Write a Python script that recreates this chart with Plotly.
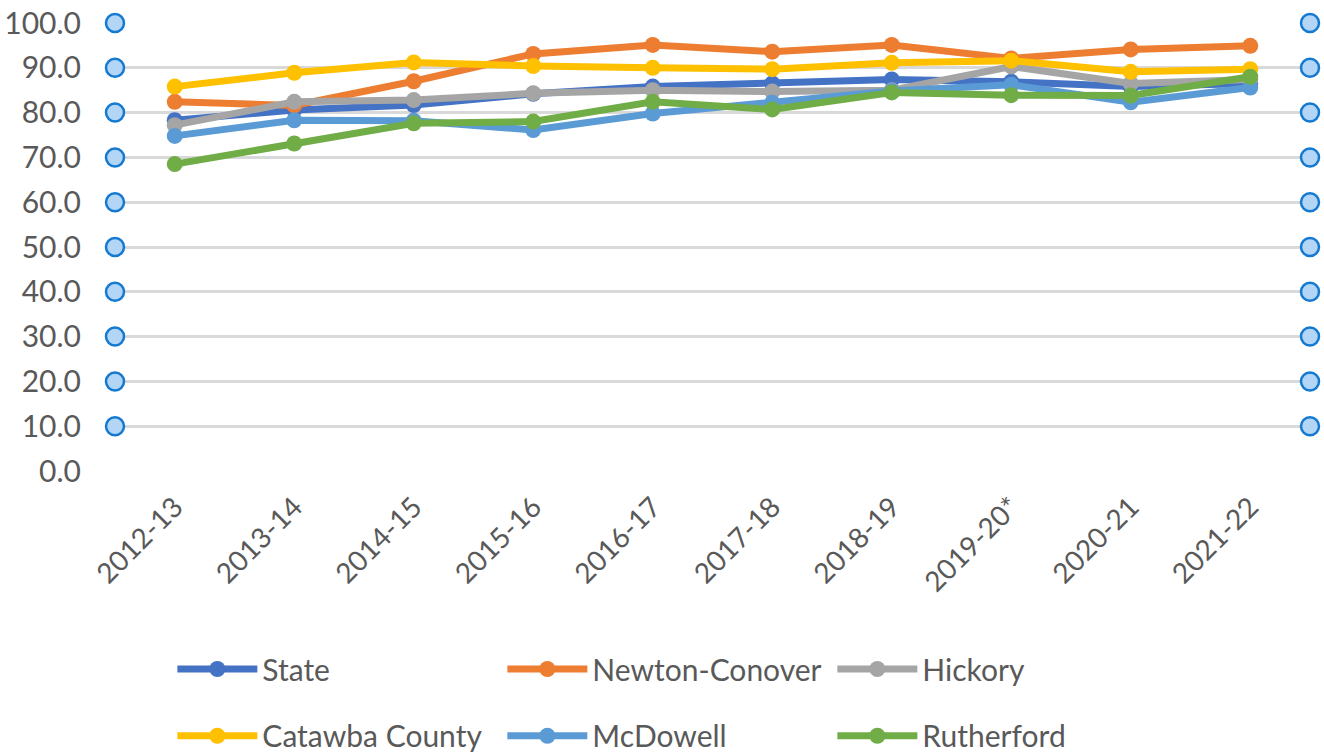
import plotly.graph_objects as go

years = ["2012-13", "2013-14", "2014-15", "2015-16", "2016-17", "2017-18",
         "2018-19", "2019-20*", "2020-21", "2021-22"]

state = [78.3, 80.6, 81.7, 84.2, 85.8, 86.5, 87.4, 86.9, 85.8, 86.5]
newton_conover = [82.4, 81.6, 87.0, 93.1, 95.1, 93.6, 95.1, 92.1, 94.1, 94.9]
hickory = [77.2, 82.4, 82.8, 84.3, 85.0, 84.7, 85.0, 90.3, 86.5, 87.4]
catawba_county = [85.8, 88.9, 91.2, 90.4, 90.0, 89.7, 91.1, 91.6, 89.1, 89.7]
mcdowell = [74.8, 78.3, 78.2, 76.1, 79.8, 82.2, 84.8, 86.2, 82.3, 85.6]
rutherford = [68.5, 73.1, 77.6, 78.0, 82.4, 80.7, 84.5, 83.9, 83.8, 88.0]

series_names = ["State", "Newton-Conover", "Hickory", "Catawba County", "McDowell", "Rutherford"]
series_values = [state, newton_conover, hickory, catawba_county, mcdowell, rutherford]
series_colors = ["#4472C4", "#ED7D31", "#A5A5A5", "#FFC000", "#5B9BD5", "#70AD47"]
series_legend = ["legend", "legend", "legend", "legend2", "legend2", "legend2"]

y_ticks = [0, 10, 20, 30, 40, 50, 60, 70, 80, 90, 100]
handle_levels = [10, 20, 30, 40, 50, 60, 70, 80, 90, 100]

FONT = "Lato"
TXT = "#595959"

fig = go.Figure()
xs = list(range(len(years)))
for name, vals, col, lg in zip(series_names, series_values, series_colors, series_legend):
    fig.add_trace(go.Scatter(
        x=xs, y=vals, name=name, mode="lines+markers", legend=lg,
        line=dict(color=col, width=7),
        marker=dict(color=col, size=16),
    ))

# selection handles at both ends of the gridlines
for xe in (-0.5, len(years) - 0.5):
    fig.add_trace(go.Scatter(
        x=[xe] * len(handle_levels), y=handle_levels, mode="markers",
        showlegend=False, hoverinfo="skip", cliponaxis=False,
        marker=dict(size=18, color="#B4D6F6", line=dict(color="#1479D0", width=2.5)),
    ))

legend_common = dict(
    orientation="h", x=0.048, xanchor="left", yanchor="middle",
    entrywidth=235, entrywidthmode="pixels", itemwidth=80,
    font=dict(family=FONT, size=30, color=TXT),
    bgcolor="rgba(0,0,0,0)",
)

fig.update_layout(
    width=1324, height=752,
    margin=dict(l=115, r=14, t=23, b=281, autoexpand=False),
    paper_bgcolor="white", plot_bgcolor="white",
    font=dict(family=FONT, size=26, color=TXT),
    legend=dict(legend_common, y=-0.442),
    legend2=dict(legend_common, y=-0.591),
    xaxis=dict(
        range=[-0.5, len(years) - 0.5], tickmode="array", tickvals=xs, ticktext=years,
        tickangle=-45, showgrid=False, zeroline=False, automargin=False,
        showline=False, ticks="", ticklabelstandoff=13,
        tickfont=dict(family=FONT, size=28, color=TXT),
    ),
    yaxis=dict(
        range=[0, 100], tickvals=y_ticks, tickformat=".1f", automargin=False,
        showgrid=True, gridcolor="#D9D9D9", gridwidth=2.5, zeroline=False,
        showline=False, ticks="", ticklabelstandoff=33,
        tickfont=dict(family=FONT, size=30, color=TXT),
    ),
)

fig.write_html(
    "out.html",
    config={"displayModeBar": False},
    post_script="document.body.style.margin='0';document.body.style.overflow='hidden';",
)
